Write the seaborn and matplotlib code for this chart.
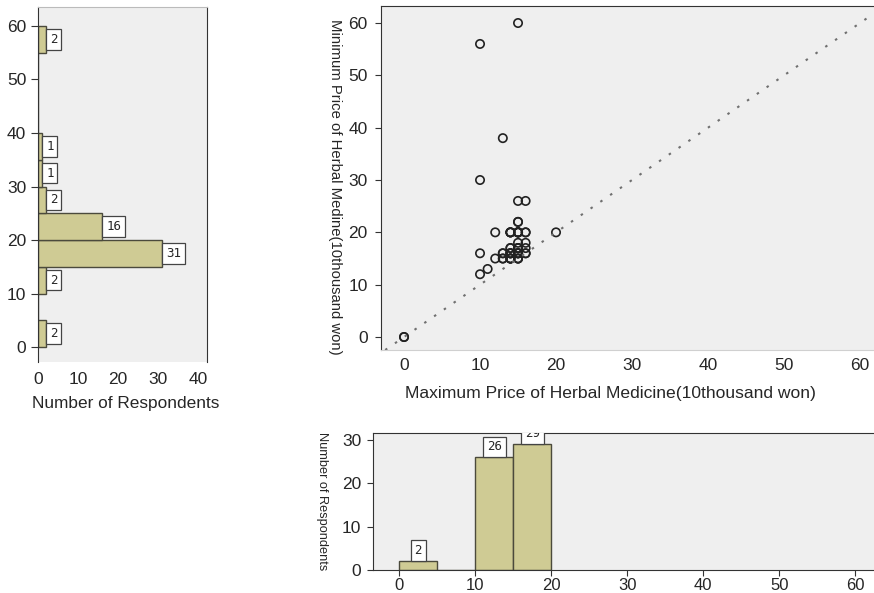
import matplotlib
matplotlib.use("Agg")
import matplotlib.pyplot as plt
import seaborn as sns

# Maximum / minimum price per respondent (10 thousand won)
max_price = [0, 0,
             10, 15, 13, 10, 15, 16,
             15, 15, 12, 14, 14, 14, 14, 15, 15, 15, 15, 15, 15, 16, 16, 20,
             15, 16, 10,
             11, 10,
             12, 13, 13, 14, 14, 14, 14, 13, 13, 14, 14, 14, 14, 14, 14,
             15, 15, 15, 15, 15, 15, 15, 16, 16, 15, 15, 15, 16]
min_price = [0, 0,
             56, 60, 38, 30, 26, 26,
             22, 22, 20, 20, 20, 20, 20, 20, 20, 20, 20, 20, 20, 20, 20, 20,
             18, 18, 16,
             13, 12,
             15, 15, 15, 15, 15, 15, 15, 16, 16, 16, 16, 16, 16, 17, 17,
             15, 15, 15, 16, 16, 16, 16, 16, 16, 17, 17, 17, 17]

min_bins = list(range(0, 65, 5))
max_bins = list(range(0, 25, 5))
price_ticks = [0, 10, 20, 30, 40, 50, 60]
left_count_ticks = [0, 10, 20, 30, 40]
bottom_count_ticks = [0, 10, 20, 30]

bar_fill = "#cfcb94"
bar_edge = "#4b4a3c"
panel_bg = "#efefef"
dark = "#333333"

sns.set_style("white")
plt.rcParams['font.family'] = ['Liberation Sans', 'DejaVu Sans']

W, H = 874, 593
fig = plt.figure(figsize=(W / 100, H / 100), dpi=100)
ax_left = fig.add_axes([38 / W, 1 - 362 / H, (207 - 38) / W, (362 - 7) / H])
ax_sc = fig.add_axes([381 / W, 1 - 350 / H, (874 - 381) / W, (350 - 6) / H])
ax_bot = fig.add_axes([373 / W, 1 - 570 / H, (874 - 373) / W, (570 - 433) / H])

box = dict(boxstyle="square,pad=0.3", fc="white", ec="#444444", lw=0.9)

# left: histogram of minimum price
sns.histplot(y=min_price, bins=min_bins, ax=ax_left, color=bar_fill,
             edgecolor=bar_edge, linewidth=1, alpha=1)
cont = ax_left.containers[0]
labels = [str(int(b.get_width())) if b.get_width() > 0 else "" for b in cont]
ax_left.bar_label(cont, labels=labels, padding=3, fontsize=9,
                  family="DejaVu Sans Mono", bbox=box)
ax_left.set_xlim(0, 42.25)
ax_left.set_ylim(-2.8, 63.55)
ax_left.set_xticks(left_count_ticks)
ax_left.set_yticks(price_ticks)
ax_left.tick_params(axis="y", left=True, length=5, width=0.8, pad=3.5,
                    labelsize=12.5, color=dark)
ax_left.tick_params(axis="x", bottom=True, length=0, pad=7, labelsize=12.5)
ax_left.set_xlabel("Number of Respondents", fontsize=12.4)
ax_left.xaxis.set_label_coords(0.52, -0.097)
ax_left.set_ylabel("")
ax_left.set_facecolor(panel_bg)
for s in ["left", "right"]:
    ax_left.spines[s].set_color(dark)
ax_left.spines["top"].set_color("#bbbbbb")
ax_left.spines["bottom"].set_visible(False)

# middle: scatter of max vs min
sns.scatterplot(x=max_price, y=min_price, ax=ax_sc, marker="o", s=36,
                facecolor="none", edgecolor="#222222", linewidth=1.2)
ax_sc.axline((0, 0), slope=1, color="#707070", lw=1.5, ls=(0, (1.2, 4.5)))
ax_sc.set_xlim(-3.03, 61.84)
ax_sc.set_ylim(-2.48, 63.25)
ax_sc.set_xticks(price_ticks)
ax_sc.set_yticks(price_ticks)
ax_sc.tick_params(axis="y", left=True, length=4.5, width=0.8, pad=5,
                  labelsize=12.5, color=dark)
ax_sc.tick_params(axis="x", bottom=True, length=0, pad=6, labelsize=12.5)
ax_sc.set_xlabel("Maximum Price of Herbal Medicine(10thousand won)", fontsize=12.6)
ax_sc.xaxis.set_label_coords(0.465, -0.105)
ax_sc.set_ylabel("Minimum Price of Herbal Medine(10thousand won)", fontsize=10.7,
                 rotation=270, va="center", ha="center")
ax_sc.yaxis.set_label_coords(-0.093, 0.474)
ax_sc.set_facecolor(panel_bg)
ax_sc.spines["left"].set_color(dark)
ax_sc.spines["top"].set_color(dark)
ax_sc.spines["bottom"].set_color("#d0d0d0")
ax_sc.spines["right"].set_visible(False)

# bottom: histogram of maximum price
sns.histplot(x=max_price, bins=max_bins, ax=ax_bot, color=bar_fill,
             edgecolor=bar_edge, linewidth=1, alpha=1)
cont = ax_bot.containers[0]
labels = [str(int(b.get_height())) if b.get_height() > 0 else "" for b in cont]
texts = ax_bot.bar_label(cont, labels=labels, padding=3, fontsize=9,
                         family="DejaVu Sans Mono", bbox=box)
for t in texts:
    t.set_clip_path(ax_bot.patch)
    t.set_clip_on(True)
ax_bot.set_xlim(-3.46, 62.46)
ax_bot.set_ylim(0, 31.64)
ax_bot.set_xticks(price_ticks)
ax_bot.set_yticks(bottom_count_ticks)
ax_bot.tick_params(axis="y", left=True, length=4.5, width=0.8,
                   pad=4, labelsize=12.5, color=dark)
ax_bot.tick_params(axis="x", bottom=True, length=4, width=0.8,
                   pad=1.5, labelsize=12, color=dark)
ax_bot.set_xlabel("")
ax_bot.set_ylabel("Number of Respondents", fontsize=9.2, rotation=270,
                  va="center", ha="center")
ax_bot.yaxis.set_label_coords(-0.102, 0.5)
ax_bot.set_facecolor(panel_bg)
for s in ["left", "top", "bottom"]:
    ax_bot.spines[s].set_color(dark)
ax_bot.spines["right"].set_visible(False)

fig.savefig("out.png", dpi=100)
